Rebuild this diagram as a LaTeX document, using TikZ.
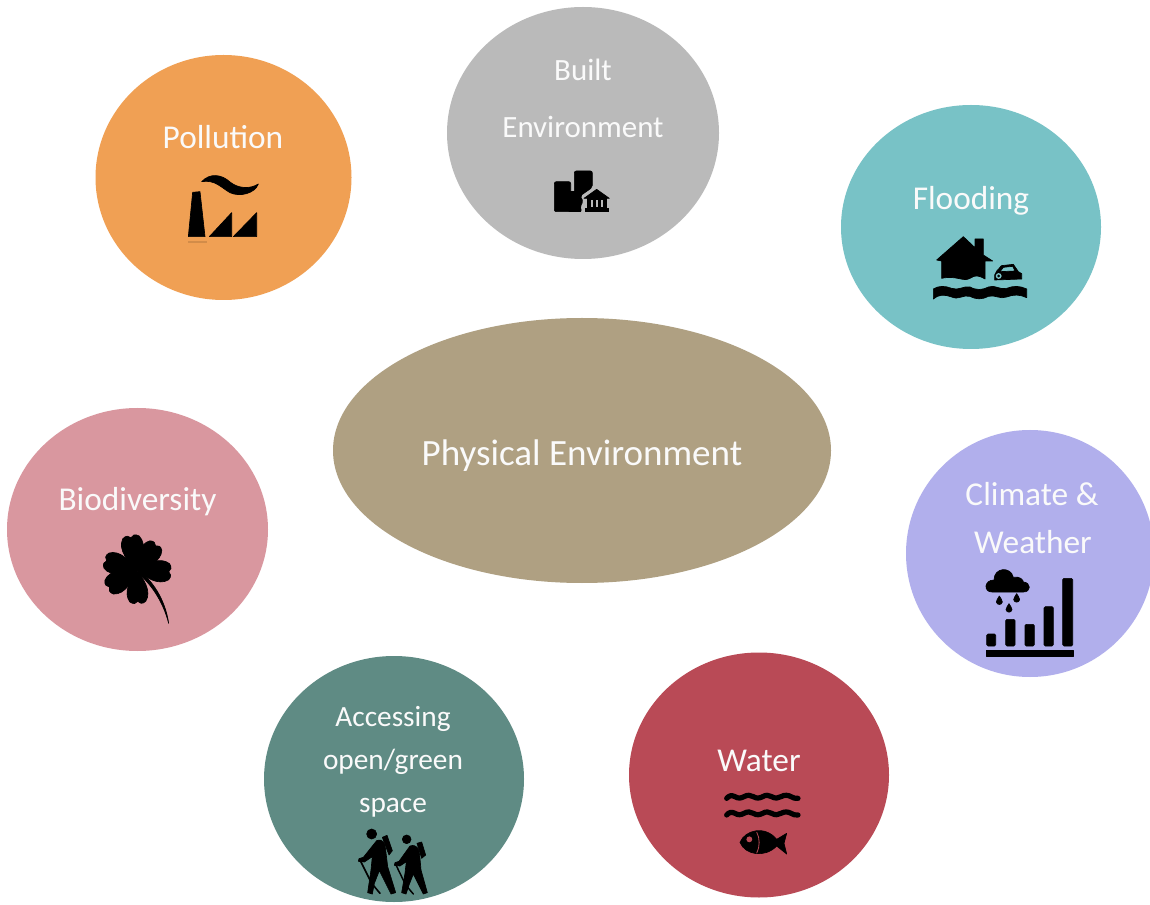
\documentclass[tikz,border=0pt]{standalone}
\usepackage{fontspec}
\setmainfont{Carlito}
\definecolor{cOrange}{HTML}{F0A054}
\definecolor{cGray}{HTML}{BABABA}
\definecolor{cTeal}{HTML}{78C2C6}
\definecolor{cTan}{HTML}{AFA082}
\definecolor{cPink}{HTML}{D9979F}
\definecolor{cLav}{HTML}{B1AFEC}
\definecolor{cRed}{HTML}{B94A56}
\definecolor{cGreen}{HTML}{5F8B84}
\tikzset{
  x=0.75pt,y=-0.75pt,
  blob/.style={fill=#1,draw=none},
  lab/.style={text=white!98!black,font=\fontsize{25}{30}\selectfont,inner sep=0pt,anchor=center},
  labmid/.style={lab,font=\fontsize{23.2}{28}\selectfont},
  labsmall/.style={lab,font=\fontsize{22}{26}\selectfont},
  labbig/.style={lab,font=\fontsize{27.8}{33}\selectfont},
  ink/.style={fill=black,draw=black,line width=.5pt,line join=round},
  icon/.style={x=0.25pt,y=-0.25pt},
  stroke/.style={draw=black,line cap=round,line join=round},
}
\begin{document}
\begin{tikzpicture}
\useasboundingbox (0,0) rectangle (1150,905);
\clip (0,0) rectangle (1150,905);
\fill[white] (0,0) rectangle (1150,905);
% discs
\fill[blob=cOrange] (223.5,177.5) ellipse [x radius=128,y radius=122.5];
\fill[blob=cGray]   (583,133) ellipse [x radius=136,y radius=126];
\fill[blob=cTeal]   (971,227) ellipse [x radius=130,y radius=122];
\fill[blob=cTan]    (582,450.5) ellipse [x radius=249,y radius=132.5];
\fill[blob=cPink]   (137.5,529.5) ellipse [x radius=130.5,y radius=121.5];
\fill[blob=cLav]    (1030,553.5) ellipse [x radius=124,y radius=123.5];
\fill[blob=cRed]    (759,775) ellipse [x radius=130,y radius=122.5];
\fill[blob=cGreen]  (394,779) ellipse [x radius=130,y radius=123];
% labels
\node[lab] (pollution) at (223,137) {Pollution};
\node[labmid] (built) at (583,70) {Built};
\node[labmid] (builtb) at (583,127) {Environment};
\node[lab] (flood) at (971,201) {Flooding};
\node[labbig] (phys) at (582,456) {Physical Environment};
\node[lab] (bio) at (137.5,502) {Biodiversity};
\node[lab] (clim) at (1032,494) {Climate \&};
\node[lab] (climb) at (1033,542) {Weather};
\node[lab] (water) at (759,761) {Water};
\node[labsmall] (acc) at (393,719) {Accessing};
\node[labsmall] (accb) at (393,762) {open/green};
\node[labsmall] (accc) at (393,808) {space};
% factory
\begin{scope}[shift={(150,160)},icon]
\fill[ink] (128,97) -- (150,95) -- (165,230) -- (115,230) -- cycle;
\fill[ink] (178,230) -- (245,158) -- (245,230) -- cycle;
\fill[ink] (250,230) -- (320,158) -- (320,230) -- cycle;
\fill[ink] (155,65) .. controls (180,38) and (215,43) .. (240,66)
  .. controls (265,86) and (300,88) .. (325,72)
  .. controls (315,100) and (270,112) .. (240,98)
  .. controls (215,84) and (195,58) .. (155,65) -- cycle;
\fill[black,opacity=.12] (115,243) rectangle (170,248);
\end{scope}
% buildings
\begin{scope}[shift={(530,160)},icon]
\fill[ink,rounded corners=1.5pt] (73,155) -- (73,65) -- (122,65) -- (122,155) -- cycle;
\fill[ink] (118,155) rectangle (150,95);
\fill[ink,rounded corners=1.5pt] (133,110) -- (133,33) -- (187,33) -- (187,82) -- (150,108) -- (160,125) -- (150,138) -- (155,155) -- (133,155) -- cycle;
\fill[ink] (200,88) -- (238,115) -- (162,115) -- cycle;
\fill[ink] (165,145) rectangle (236,155);
\fill[ink] (172,115) rectangle (230,145);
\foreach \cx in {186,201,216} {\fill[cGray] (\cx-2.5,120) rectangle (\cx+2.5,141);}
\end{scope}
% house and car
\begin{scope}[shift={(920,225)},icon]
\fill[ink] (130,35) -- (165,68) -- (165,42) -- (190,42) -- (190,90) -- (218,108) -- (195,108) -- (195,162)
  .. controls (175,150) and (165,150) .. (150,160) .. controls (130,172) and (110,150) .. (65,160)
  -- (65,108) -- (50,105) -- cycle;
\fill[ink] (40,192) .. controls (55,182) and (75,182) .. (95,190) .. controls (115,198) and (130,182) .. (150,186)
  .. controls (170,196) and (185,196) .. (205,186) .. controls (225,178) and (240,196) .. (260,190)
  .. controls (280,182) and (300,182) .. (320,192) -- (320,218)
  .. controls (300,208) and (280,208) .. (260,216) .. controls (240,224) and (225,208) .. (205,214)
  .. controls (185,224) and (170,224) .. (150,214) .. controls (130,208) and (115,226) .. (95,216)
  .. controls (75,208) and (55,208) .. (40,222) -- cycle;
\fill[ink,even odd rule] (224,150) .. controls (226,138) and (234,136) .. (244,122) -- (280,118) -- (295,140) -- (305,146) -- (305,162) -- (224,165) -- cycle
  (250,127) -- (278,124) -- (285,138) -- (240,140) -- cycle;
\fill[cTeal] (236,153) circle [radius=2.2pt];
\fill[ink] (236,153) circle [radius=.8pt];
\end{scope}
% climate
\begin{scope}[shift={(970,560)},icon]
\fill[ink] (66,96) .. controls (40,96) and (42,60) .. (72,60) .. controls (72,22) and (122,18) .. (130,52)
  .. controls (150,48) and (160,60) .. (160,66) .. controls (184,68) and (184,96) .. (160,96) -- cycle;
\foreach \dx/\dy in {88/122,140/115,117/145}{
  \fill[ink] (\dx,\dy-14) .. controls (\dx+3,\dy-6) and (\dx+10,\dy-2) .. (\dx+9,\dy+4)
    .. controls (\dx+7,\dy+14) and (\dx-7,\dy+14) .. (\dx-9,\dy+4) .. controls (\dx-10,\dy-2) and (\dx-3,\dy-6) .. (\dx,\dy-14) -- cycle;}
\fill[ink,rounded corners=1pt] (50,258) rectangle (77,222);
\fill[ink,rounded corners=1pt] (107,258) rectangle (135,178);
\fill[ink,rounded corners=1pt] (165,258) rectangle (193,193);
\fill[ink,rounded corners=1pt] (222,258) rectangle (250,140);
\fill[ink,rounded corners=1pt] (278,258) rectangle (308,55);
\fill[ink] (50,272) rectangle (310,288);
\end{scope}
% water and fish
\begin{scope}[shift={(710,780)},icon]
\foreach \wy in {50,100}{
\draw[stroke,line width=3.9pt] (50,\wy+5) .. controls (58,\wy-4) and (65,\wy-5) .. (75,\wy) .. controls (85,\wy+6) and (92,\wy+5) .. (102,\wy)
 .. controls (112,\wy-6) and (122,\wy-5) .. (130,\wy) .. controls (140,\wy+6) and (148,\wy+5) .. (158,\wy)
 .. controls (168,\wy-6) and (176,\wy-5) .. (185,\wy) .. controls (195,\wy+6) and (205,\wy+5) .. (213,\wy)
 .. controls (223,\wy-6) and (235,\wy-5) .. (243,\wy) .. controls (250,\wy+5) and (256,\wy+5) .. (264,\wy+5);}
\fill[ink] (90,187) .. controls (105,150) and (165,135) .. (200,178) -- (230,160) -- (222,190) -- (230,222) -- (200,198)
 .. controls (165,235) and (105,225) .. (90,187) -- cycle;
\fill[cRed] (118,178) circle [radius=2.2pt];
\draw[cRed,line width=.6pt] (140,156) .. controls (150,175) and (150,200) .. (140,220);
\end{scope}
% hikers
\begin{scope}[shift={(345,820)},icon]
\fill[ink] (80,42) circle [radius=3.75pt];
\fill[ink] (95,62) .. controls (115,55) and (120,70) .. (122,90) -- (128,140) -- (152,218) -- (138,222) -- (103,152) -- (88,190) -- (82,222) -- (68,218) -- (78,150) -- (82,110) -- (58,126) -- (40,124) -- (42,116) -- (55,112) -- cycle;
\fill[ink] (112,52) -- (126,46) -- (142,92) -- (132,105) -- cycle;
\draw[stroke,line width=1.2pt] (46,122) -- (80,190) -- (105,220);
\fill[ink] (185,58) circle [radius=3.25pt];
\fill[ink] (195,78) .. controls (215,72) and (222,85) .. (224,105) -- (228,150) -- (247,218) -- (235,222) -- (205,162) -- (192,195) -- (183,222) -- (170,218) -- (180,160) -- (184,125) -- (165,138) -- (148,136) -- (150,128) -- (162,124) -- cycle;
\fill[ink] (216,70) -- (230,66) -- (242,105) -- (230,115) -- cycle;
\draw[stroke,line width=1.1pt] (153,135) -- (182,195) -- (205,222);
\end{scope}
% clover
\begin{scope}[shift={(90,525)},icon]
\foreach \ang/\len in {100/92,52/86,-3/90,-88/88,-148/90,163/88}{
\begin{scope}[shift={(140,135)},rotate=\ang]
\fill[ink] (0,0) .. controls (.3*\len,-.22*\len) and (.75*\len,-.5*\len) .. (1.08*\len,-.27*\len)
 .. controls (1.18*\len,-.15*\len) and (1.14*\len,-.05*\len) .. (1.07*\len,0)
 .. controls (1.14*\len,.05*\len) and (1.18*\len,.15*\len) .. (1.08*\len,.27*\len)
 .. controls (.75*\len,.5*\len) and (.3*\len,.22*\len) .. (0,0) -- cycle;
\end{scope}}
\fill[ink] (146,136) .. controls (185,165) and (225,220) .. (236,295) .. controls (218,225) and (180,175) .. (146,146) -- cycle;
\end{scope}
\end{tikzpicture}
\end{document}
